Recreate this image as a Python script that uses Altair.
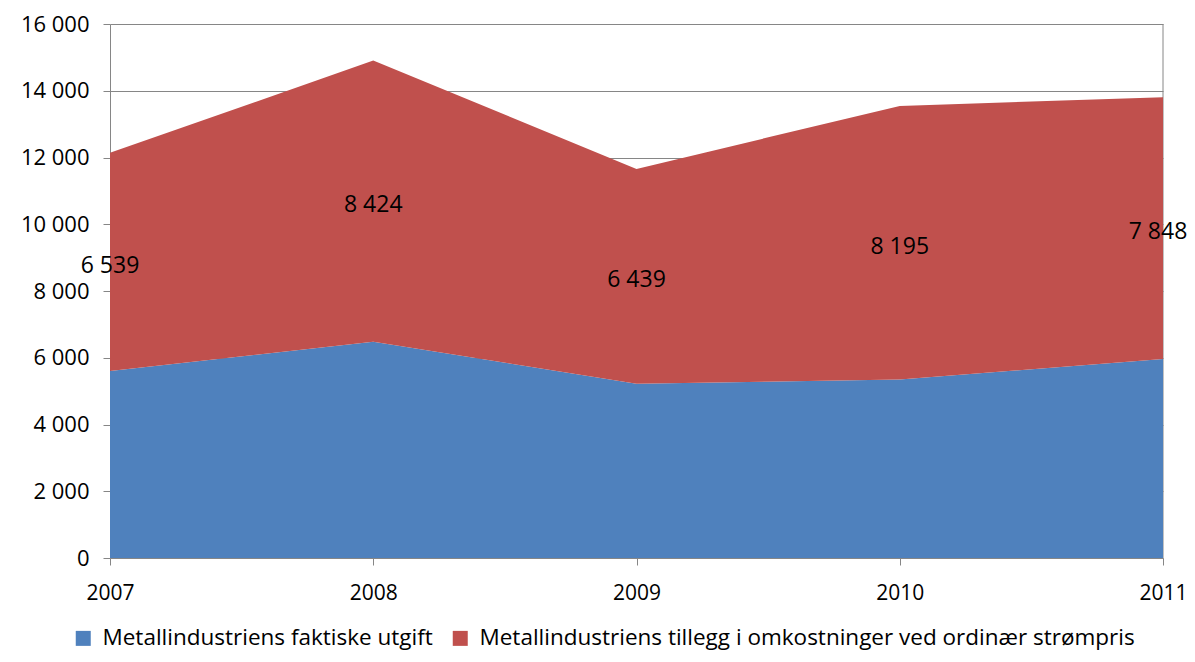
import altair as alt
import pandas as pd

years = [2007, 2008, 2009, 2010, 2011]
series_names = ["Metallindustriens faktiske utgift",
                "Metallindustriens tillegg i omkostninger ved ordinær strømpris"]
faktiske = [5600, 6480, 5220, 5350, 5960]
tillegg = [6539, 8424, 6439, 8195, 7848]
colors = ["#4F81BD", "#C0504D"]
y_ticks = [0, 2000, 4000, 6000, 8000, 10000, 12000, 14000, 16000]

rows = []
for i, yr in enumerate(years):
    rows.append({"year": yr, "serie": series_names[0], "value": faktiske[i], "ord": 0})
    rows.append({"year": yr, "serie": series_names[1], "value": tillegg[i], "ord": 1})
df = pd.DataFrame(rows)

lab = pd.DataFrame({
    "year": years,
    "mid": [f + t / 2 for f, t in zip(faktiske, tillegg)],
    "label": [f"{t:,}".replace(",", " ") for t in tillegg],
})

FONT = "Open Sans"

x = alt.X("year:Q", scale=alt.Scale(domain=[2007, 2011], nice=False, zero=False),
          axis=alt.Axis(values=years, format="d", title=None, grid=False,
                        labelFontSize=21, labelFont=FONT, labelColor="#000000",
                        domainColor="#868686", tickColor="#868686", tickSize=7,
                        labelPadding=17, labelFlush=False))

areas = alt.Chart(df).mark_area(opacity=1).encode(
    x=x,
    y=alt.Y("value:Q", stack="zero",
            scale=alt.Scale(domain=[0, 16000], nice=False),
            axis=alt.Axis(values=y_ticks, title=None, grid=True, gridColor="#868686",
                          gridWidth=1, labelFontSize=22, labelFont=FONT,
                          labelColor="#000000", domainColor="#868686",
                          tickColor="#868686", tickSize=7, labelPadding=14,
                          labelExpr="replace(format(datum.value, ','), ',', ' ')")),
    color=alt.Color("serie:N", scale=alt.Scale(domain=series_names, range=colors),
                    legend=alt.Legend(title=None, orient="none", direction="horizontal",
                                      legendX=-38, legendY=603, symbolType="square",
                                      symbolSize=225, symbolStrokeWidth=0,
                                      labelFontSize=22.5, labelFont=FONT,
                                      labelColor="#000000", columnPadding=16,
                                      labelOffset=8, labelLimit=900)),
    order=alt.Order("ord:Q"),
)

edge = alt.Chart(pd.DataFrame({"year": [2011]})).mark_rule(color="#868686", strokeWidth=1).encode(
    x=alt.X("year:Q"),
    y=alt.value(0), y2=alt.value(534),
)

text_enc = dict(x=alt.X("year:Q"), y=alt.Y("mid:Q"), text="label:N")
texts = alt.Chart(lab).transform_filter("datum.year < 2011").mark_text(
    fontSize=23, font=FONT, color="#000000", align="center", baseline="middle", dy=4
).encode(**text_enc)
texts_last = alt.Chart(lab).transform_filter("datum.year == 2011").mark_text(
    fontSize=23, font=FONT, color="#000000", align="center", baseline="middle", dy=4, dx=-5
).encode(**text_enc)

chart = alt.layer(edge, areas, texts, texts_last).properties(
    width=1053, height=534,
    autosize=alt.AutoSizeParams(type="none"),
    padding={"left": 102, "top": 16, "right": 24, "bottom": 96},
).configure_view(stroke=None).configure_axis(gridOpacity=1)

chart.save("out.html", embed_options={"renderer": "svg", "actions": False})
